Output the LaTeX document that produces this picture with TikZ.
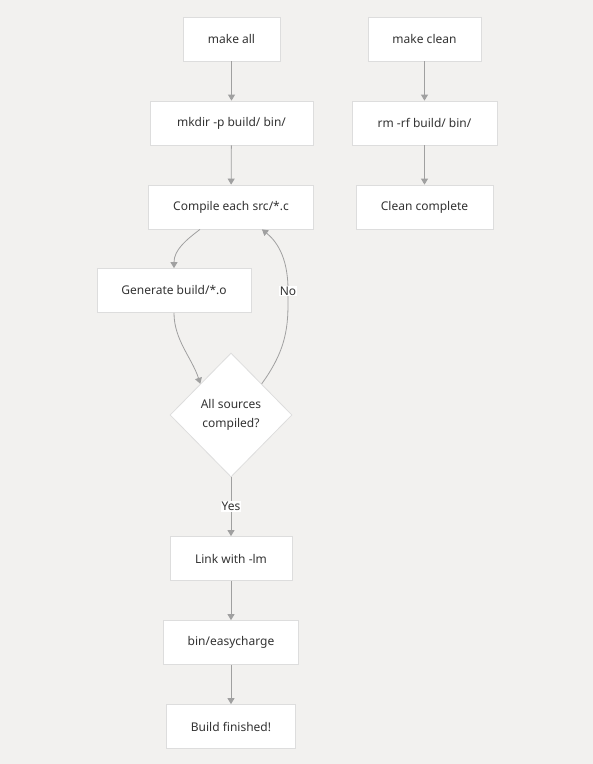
\documentclass[tikz,border=0pt]{standalone}
\usepackage{fontspec}
\setmainfont{Noto Sans}
\usetikzlibrary{shapes.geometric,arrows.meta}
\definecolor{bgcol}{HTML}{F2F1EF}
\definecolor{boxline}{HTML}{DDDDDD}
\definecolor{arrowcol}{HTML}{A0A0A0}
\definecolor{txtcol}{HTML}{333333}
\tikzset{
  stepbox/.style={draw=boxline,fill=white,line width=0.8pt,minimum height=44pt,text=txtcol,font=\fontsize{12}{14}\selectfont},
  decision/.style={diamond,draw=boxline,fill=white,line width=0.8pt,minimum width=122pt,minimum height=124pt,inner sep=0pt,align=center,text=txtcol,font=\fontsize{12}{19.5}\selectfont},
  flow/.style={draw=arrowcol,line width=0.8pt,-{Triangle[length=6pt,width=7pt]}},
  edgelabel/.style={fill=white,inner sep=1pt,text=txtcol,font=\fontsize{12}{14}\selectfont}
}
\begin{document}
\begin{tikzpicture}[x=1pt,y=-1pt]
\fill[bgcol] (0,0) rectangle (593,764);
\useasboundingbox (0,0) rectangle (593,764);
% build target
\node [stepbox,minimum width=97pt] (all) at (231.5,39) {make all};
\node [stepbox,minimum width=163pt] (mkdir) at (231.5,123) {mkdir -p build/ bin/};
\node [stepbox,minimum width=165pt] (compile) at (231,207) {Compile each src/*.c};
\node [stepbox,minimum width=154pt] (gen) at (174,290.5) {Generate build/*.o};
\node [decision] (check) at (231,415) {All sources\\compiled?};
\node [stepbox,minimum width=122pt] (link) at (231,558.5) {Link with -lm};
\node [stepbox,minimum width=135pt] (bin) at (231,642.5) {bin/easycharge};
\node [stepbox,minimum width=129pt] (done) at (231,726.5) {Build finished!};
% clean target
\node [stepbox,minimum width=113pt] (clean) at (424.5,39) {make clean};
\node [stepbox,minimum width=145pt] (rm) at (424.5,123) {rm -rf build/ bin/};
\node [stepbox,minimum width=137pt] (cleaned) at (424.5,207) {Clean complete};
% connectors
\draw [flow] (all) -- (mkdir);
\draw [flow] (mkdir) -- (compile);
\draw [flow] (compile.south -| 200,0) .. controls (186,240) and (174,250) .. (gen.north);
\draw [flow] (gen.south) .. controls (174,340) and (192,358) .. (check.north west);
\draw [flow] (check.north east) .. controls (290,345) and (288,320) .. (288,290)
  .. controls (288,255) and (275,240) .. (compile.south -| 262,0);
\node [edgelabel] (no) at (288,291) {No};
\draw [flow] (check) -- (link) node [edgelabel,pos=0.5] (yes) {Yes};
\draw [flow] (link) -- (bin);
\draw [flow] (bin) -- (done);
\draw [flow] (clean) -- (rm);
\draw [flow] (rm) -- (cleaned);
\end{tikzpicture}
\end{document}
